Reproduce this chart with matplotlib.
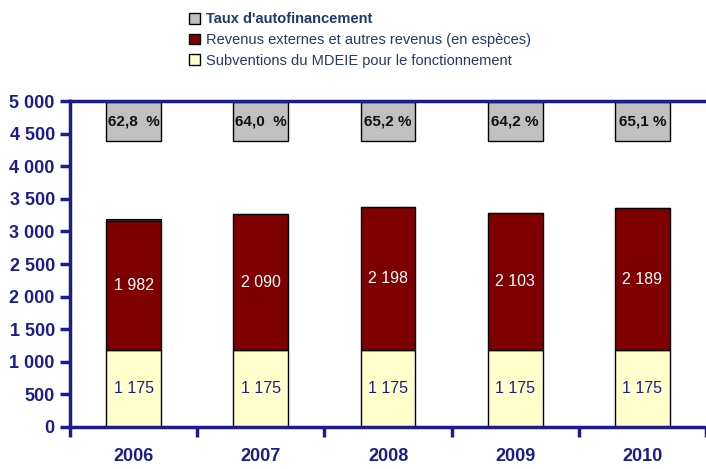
import matplotlib.pyplot as plt
from matplotlib.patches import Patch
from matplotlib import font_manager

names = {f.name for f in font_manager.fontManager.ttflist}
fam = 'Liberation Sans Narrow' if 'Liberation Sans Narrow' in names else 'Liberation Sans'
plt.rcParams['font.family'] = [fam, 'DejaVu Sans']

years = ['2006', '2007', '2008', '2009', '2010']
subventions = [1175, 1175, 1175, 1175, 1175]
revenus = [1982, 2090, 2198, 2103, 2189]
autres = [30, 0, 0, 0, 0]
taux = ['62,8  %', '64,0  %', '65,2 %', '64,2 %', '65,1 %']

navy = '#1c1c8c'
txt = '#1f3a6e'
red = '#7f0000'
yellow = '#ffffcc'
gray = '#c0c0c0'

fig = plt.figure(figsize=(7.06, 4.69), dpi=100)
ax = fig.add_axes([0.0992, 0.0896, 0.9008, 0.695])

x = list(range(len(years)))
w = 0.43
ax.bar(x, subventions, w, color=yellow, edgecolor='black', linewidth=1)
ax.bar(x, revenus, w, bottom=subventions, color=red, edgecolor='black', linewidth=1)
tops = [s + r for s, r in zip(subventions, revenus)]
ax.bar(x, autres, w, bottom=tops, color='#303030', edgecolor='black', linewidth=0.8)

# boxes with the self-financing rate
ax.bar(x, [590] * 5, w, bottom=4390, color=gray, edgecolor='black', linewidth=1)
for i in x:
    ax.text(i, 4685, taux[i], ha='center', va='center', fontsize=11,
            fontweight='bold', color='#111111')
    ax.text(i, subventions[i] / 2, f'{subventions[i]:,}'.replace(',', ' '),
            ha='center', va='center', fontsize=11.5, color=navy)
    ax.text(i, subventions[i] + revenus[i] / 2, f'{revenus[i]:,}'.replace(',', ' '),
            ha='center', va='center', fontsize=11.5, color='white')

ax.set_xlim(-0.5, 4.5)
ax.set_ylim(0, 5000)
ax.set_yticks(range(0, 5001, 500))
ax.set_yticklabels([f'{v:,}'.replace(',', ' ') for v in range(0, 5001, 500)])
ax.set_xticks([i - 0.5 for i in range(6)])
ax.set_xticklabels([])
ax.set_xticks(x, minor=True)
ax.set_xticklabels(years, minor=True)
ax.tick_params(axis='x', which='minor', length=0, pad=15)
ax.tick_params(axis='x', which='major', length=7, width=2.5, color=navy, direction='out')
ax.tick_params(axis='y', length=7, width=2.5, color=navy, direction='out', pad=4)
for lab in ax.get_yticklabels() + ax.get_xticklabels(minor=True):
    lab.set_fontweight('bold')
    lab.set_fontsize(13)
    lab.set_color(navy)

for s in ['left', 'bottom', 'top']:
    ax.spines[s].set_color(navy)
    ax.spines[s].set_linewidth(2.5)
ax.spines['right'].set_visible(False)

handles = [Patch(facecolor=gray, edgecolor='black'),
           Patch(facecolor=red, edgecolor='black'),
           Patch(facecolor=yellow, edgecolor='black')]
labels = ["Taux d'autofinancement",
          'Revenus externes et autres revenus (en espèces)',
          'Subventions du MDEIE pour le fonctionnement']
leg = fig.legend(handles, labels, loc='upper left', bbox_to_anchor=(0.25, 1.0),
                 frameon=False, fontsize=10.5, handlelength=0.75, handleheight=0.75,
                 handletextpad=0.4, labelspacing=0.45, borderpad=0.35)
for i, t in enumerate(leg.get_texts()):
    t.set_color(txt)
    if i == 0:
        t.set_fontweight('bold')

fig.savefig('out.png', dpi=100)
